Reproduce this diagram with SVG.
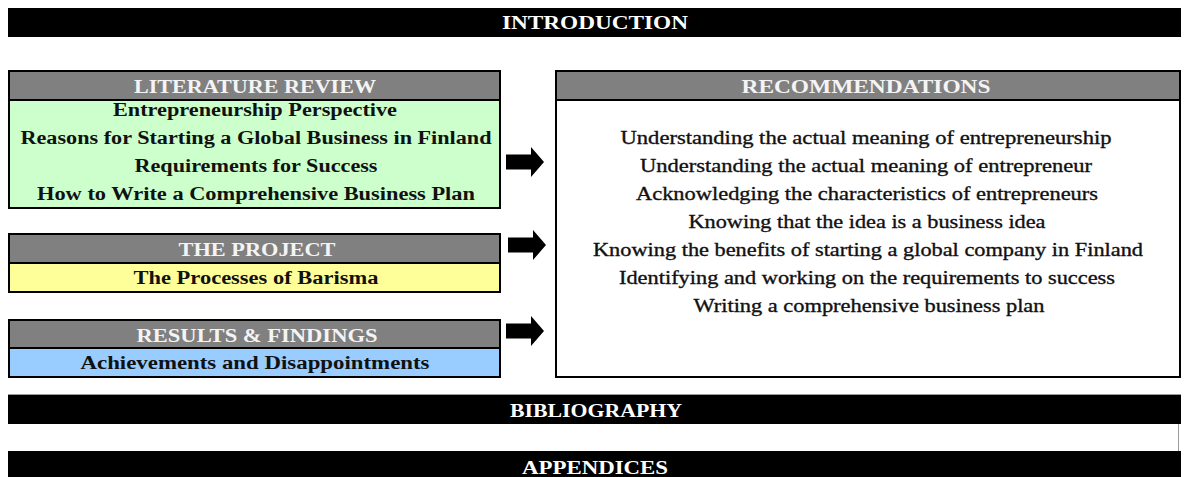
<svg xmlns="http://www.w3.org/2000/svg" width="1187" height="477" viewBox="0 0 1187 477">
  <style>
    .bar { fill: #000000; }
    .bartxt { font-family: "Liberation Serif", "Times New Roman", serif; font-weight: bold; font-size: 19px; fill: #ffffff; text-anchor: middle; }
    .hdr { fill: #808080; stroke: #000000; stroke-width: 2; }
    .hdrtxt { font-family: "Liberation Serif", "Times New Roman", serif; font-weight: bold; font-size: 18.5px; fill: #f4f4f4; text-anchor: middle; }
    .body { stroke: #000000; stroke-width: 2; }
    .item { font-family: "Liberation Serif", "Times New Roman", serif; font-weight: bold; font-size: 18.5px; fill: #111111; text-anchor: middle; }
    .rec { font-family: "Liberation Serif", "Times New Roman", serif; font-size: 19px; fill: #111111; stroke: #111111; stroke-width: 0.35px; text-anchor: middle; }
    .arrow { fill: #000000; }
  </style>
  <defs>
    <!-- block arrow pointing right, origin at its left middle -->
    <path id="blockArrow" d="M0,-7.5 H25 V-15 L38,0 L25,15 V7.5 H0 Z"/>
  </defs>
  <rect width="1187" height="477" fill="#ffffff"/>

  <!-- full-width section bars -->
  <g id="introduction">
    <rect class="bar" x="8" y="8" width="1173" height="29"/>
    <text class="bartxt" x="595" y="28.5" textLength="186" lengthAdjust="spacingAndGlyphs">INTRODUCTION</text>
  </g>

  <g id="literature-review">
    <rect class="body" x="9" y="71" width="491" height="137" fill="#ccffcc"/>
    <rect class="hdr" x="9" y="71" width="491" height="29"/>
    <text class="hdrtxt" x="255" y="93" textLength="242" lengthAdjust="spacingAndGlyphs">LITERATURE REVIEW</text>
    <text class="item" x="255" y="116" textLength="284" lengthAdjust="spacingAndGlyphs">Entrepreneurship Perspective</text>
    <text class="item" x="256" y="144" textLength="471" lengthAdjust="spacingAndGlyphs">Reasons for Starting a Global Business in Finland</text>
    <text class="item" x="256" y="172" textLength="243" lengthAdjust="spacingAndGlyphs">Requirements for Success</text>
    <text class="item" x="256" y="200" textLength="438" lengthAdjust="spacingAndGlyphs">How to Write a Comprehensive Business Plan</text>
  </g>

  <g id="the-project">
    <rect class="body" x="9" y="234" width="491" height="58" fill="#ffff99"/>
    <rect class="hdr" x="9" y="234" width="491" height="29"/>
    <text class="hdrtxt" x="257" y="256" textLength="157" lengthAdjust="spacingAndGlyphs">THE PROJECT</text>
    <text class="item" x="256" y="284" textLength="245" lengthAdjust="spacingAndGlyphs">The Processes of Barisma</text>
  </g>

  <g id="results-findings">
    <rect class="body" x="9" y="320" width="491" height="57" fill="#99ccff"/>
    <rect class="hdr" x="9" y="320" width="491" height="28"/>
    <text class="hdrtxt" x="257" y="341.5" textLength="241" lengthAdjust="spacingAndGlyphs">RESULTS &amp; FINDINGS</text>
    <text class="item" x="255" y="369" textLength="349" lengthAdjust="spacingAndGlyphs">Achievements and Disappointments</text>
  </g>

  <g id="recommendations">
    <rect class="body" x="556" y="71" width="624" height="306" fill="#ffffff"/>
    <rect class="hdr" x="556" y="71" width="624" height="29"/>
    <text class="hdrtxt" x="866" y="93" textLength="249" lengthAdjust="spacingAndGlyphs">RECOMMENDATIONS</text>
    <text class="rec" x="866" y="144" textLength="491" lengthAdjust="spacingAndGlyphs">Understanding the actual meaning of entrepreneurship</text>
    <text class="rec" x="866" y="172" textLength="452" lengthAdjust="spacingAndGlyphs">Understanding the actual meaning of entrepreneur</text>
    <text class="rec" x="867" y="200" textLength="462" lengthAdjust="spacingAndGlyphs">Acknowledging the characteristics of entrepreneurs</text>
    <text class="rec" x="867" y="228" textLength="357" lengthAdjust="spacingAndGlyphs">Knowing that the idea is a business idea</text>
    <text class="rec" x="868" y="256" textLength="550" lengthAdjust="spacingAndGlyphs">Knowing the benefits of starting a global company in Finland</text>
    <text class="rec" x="867" y="284" textLength="496" lengthAdjust="spacingAndGlyphs">Identifying and working on the requirements to success</text>
    <text class="rec" x="869" y="312" textLength="351" lengthAdjust="spacingAndGlyphs">Writing a comprehensive business plan</text>
  </g>

  <g id="connectors">
    <use href="#blockArrow" class="arrow" x="506" y="162"/>
    <use href="#blockArrow" class="arrow" x="508" y="245"/>
    <use href="#blockArrow" class="arrow" x="506" y="331"/>
  </g>

  <g id="bibliography">
    <line x1="8" y1="394.5" x2="1181" y2="394.5" stroke="#9a9a9a" stroke-width="1"/>
    <rect class="bar" x="8" y="395" width="1173" height="29"/>
    <text class="bartxt" x="596" y="417" textLength="172" lengthAdjust="spacingAndGlyphs">BIBLIOGRAPHY</text>
    <line x1="1178.5" y1="424" x2="1178.5" y2="451" stroke="#9a9a9a" stroke-width="1"/>
  </g>

  <g id="appendices">
    <rect class="bar" x="8" y="451" width="1173" height="26"/>
    <text class="bartxt" x="595" y="474" textLength="146" lengthAdjust="spacingAndGlyphs">APPENDICES</text>
  </g>
</svg>
